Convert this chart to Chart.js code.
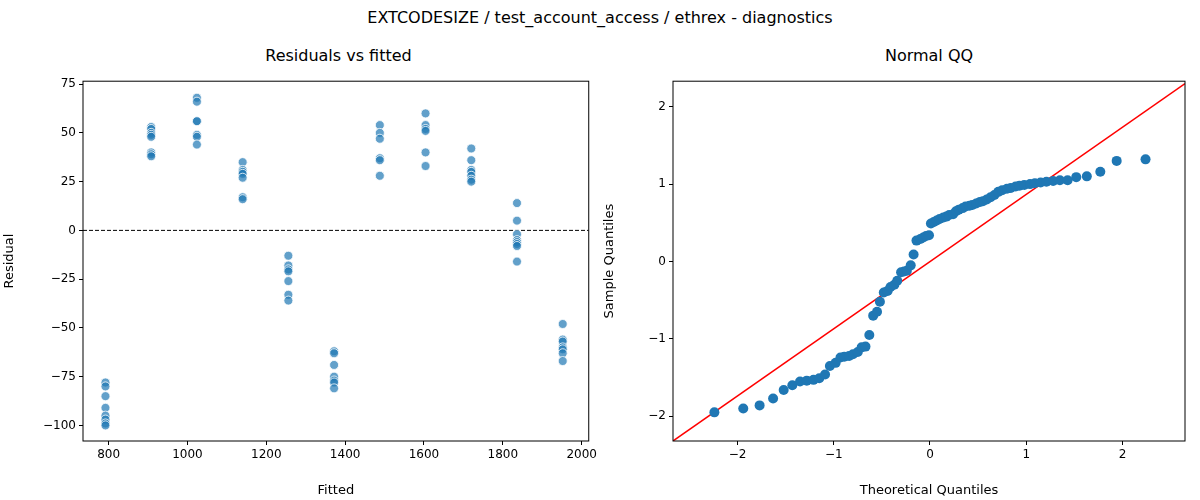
<!DOCTYPE html>
<html>
<head>
<meta charset="utf-8">
<script src="https://cdn.jsdelivr.net/npm/chart.js@4"></script>
<style>
  body { margin: 0; width: 1200px; height: 500px; background: #fff; position: relative; font-family: "DejaVu Sans", sans-serif; overflow: hidden; }
  .t { position: absolute; text-align: center; color: #000; }
  .wrap { position: absolute; top: 71px; height: 429px; width: 600px; }
</style>
</head>
<body>
<div class="t" style="left:0;width:1200px;top:8px;font-size:16px;">EXTCODESIZE / test_account_access / ethrex - diagnostics</div>
<div class="t" style="left:83px;width:511px;top:46px;font-size:16px;">Residuals vs fitted</div>
<div class="t" style="left:673px;width:512px;top:46px;font-size:16px;">Normal QQ</div>
<div class="wrap" style="left:0"><canvas id="resid" width="600" height="429"></canvas></div>
<div class="wrap" style="left:600px"><canvas id="qq" width="600" height="429"></canvas></div>
<script>
// fitted value of each group and its residuals
const fittedGroups = [792, 908, 1024, 1140, 1256, 1372, 1488, 1604, 1720, 1836, 1952];
const residGroups = [
  [-78, -80, -85, -91, -95, -97, -99, -100],
  [53, 52, 50, 49, 48, 40, 39, 38],
  [68, 66, 56, 56, 49, 48, 44],
  [35, 31, 30, 29, 27, 17, 16],
  [-13, -18, -20, -21, -26, -33, -36],
  [-62, -63, -69, -75, -77, -78, -81],
  [54, 50, 47, 37, 36, 28],
  [60, 54, 52, 51, 40, 33],
  [42, 36, 31, 30, 28, 26, 25],
  [14, 5, -2, -5, -6, -7, -8, -16],
  [-48, -56, -57, -60, -61, -63, -67]
];
const fittedTicks = [800, 1000, 1200, 1400, 1600, 1800, 2000];
const residTicks = [-100, -75, -50, -25, 0, 25, 50, 75];

const theoQ = [-2.24, -1.94, -1.77, -1.63, -1.52, -1.43, -1.35, -1.28, -1.21, -1.15, -1.09, -1.04, -0.98,
  -0.93, -0.89, -0.84, -0.80, -0.75, -0.71, -0.67, -0.63, -0.59, -0.55, -0.52, -0.48, -0.44, -0.41, -0.37,
  -0.34, -0.30, -0.27, -0.24, -0.20, -0.17, -0.14, -0.10, -0.07, -0.04, -0.01,
  0.01, 0.04, 0.07, 0.10, 0.14, 0.17, 0.20, 0.24, 0.27, 0.30, 0.34, 0.37, 0.41, 0.44, 0.48, 0.52, 0.55,
  0.59, 0.63, 0.67, 0.71, 0.75, 0.80, 0.84, 0.89, 0.93, 0.98, 1.04, 1.09, 1.15, 1.21, 1.28, 1.35, 1.43,
  1.52, 1.63, 1.77, 1.94, 2.24];
const sampleQ = [-1.95, -1.90, -1.86, -1.77, -1.66, -1.60, -1.55, -1.54, -1.53, -1.51, -1.46, -1.35, -1.31,
  -1.24, -1.23, -1.22, -1.20, -1.17, -1.11, -1.10, -0.95, -0.70, -0.65, -0.52, -0.40, -0.38, -0.33, -0.30,
  -0.25, -0.14, -0.13, -0.12, -0.05, 0.09, 0.27, 0.29, 0.31, 0.33, 0.34,
  0.49, 0.51, 0.53, 0.55, 0.57, 0.58, 0.60, 0.61, 0.65, 0.67, 0.69, 0.71, 0.72, 0.73, 0.75, 0.77, 0.78,
  0.80, 0.83, 0.86, 0.90, 0.92, 0.94, 0.95, 0.97, 0.98, 0.99, 1.00, 1.01, 1.02, 1.03, 1.04, 1.05, 1.05,
  1.09, 1.10, 1.16, 1.30, 1.32];
const qqTicksX = [-2, -1, 0, 1, 2];
const qqTicksY = [-2, -1, 0, 1, 2];
const qqLineX = [-2.67, 2.65];
const qqLineY = [-2.32, 2.30];

Chart.defaults.font.family = '"DejaVu Sans", sans-serif';
Chart.defaults.font.size = 12;
Chart.defaults.color = '#000';

const frame = {
  id: 'frame',
  afterDraw(c) {
    const a = c.chartArea, ctx = c.ctx;
    ctx.save();
    ctx.strokeStyle = '#000';
    ctx.lineWidth = 1;
    ctx.strokeRect(a.left, a.top, a.right - a.left, a.bottom - a.top);
    ctx.restore();
  }
};

function axis(min, max, title, size, tickVals) {
  return {
    type: 'linear', min, max,
    title: { display: true, text: title, font: { size: 13 }, padding: 2 },
    grid: { drawOnChartArea: false, tickLength: 4, color: '#000' },
    border: { display: false },
    ticks: { padding: 3, autoSkip: false, callback: v => String(v).replace('-', '\u2212') },
    afterBuildTicks(s) { s.ticks = tickVals.map(v => ({ value: v })); },
    afterFit(s) { if (s.isHorizontal()) s.height = size; else s.width = size; }
  };
}

let residPts = [];
fittedGroups.forEach((f, i) => residGroups[i].forEach(r => residPts.push({ x: f, y: r })));

new Chart(document.getElementById('resid'), {
  type: 'scatter',
  data: {
    datasets: [
      { data: residPts, backgroundColor: 'rgba(31,119,180,0.7)', borderColor: '#fff', borderWidth: 0.8, pointRadius: 4.5 },
      { type: 'line', data: [{ x: 735, y: 0 }, { x: 2018, y: 0 }], borderColor: '#000', borderWidth: 1,
        borderDash: [4, 2], pointRadius: 0 }
    ]
  },
  options: {
    responsive: false, animation: false,
    layout: { padding: { right: 6, top: 0 } },
    plugins: { legend: { display: false }, tooltip: { enabled: false } },
    scales: {
      x: axis(735, 2018, 'Fitted', 59, fittedTicks),
      y: axis(-108, 76.5, 'Residual', 83, residTicks)
    }
  },
  plugins: [frame]
});

new Chart(document.getElementById('qq'), {
  type: 'scatter',
  data: {
    datasets: [
      { data: theoQ.map((t, i) => ({ x: t, y: sampleQ[i] })), backgroundColor: '#1f77b4', borderWidth: 0, pointRadius: 5 },
      { type: 'line', data: qqLineX.map((x, i) => ({ x, y: qqLineY[i] })), borderColor: '#ff0000',
        borderWidth: 1.5, pointRadius: 0 }
    ]
  },
  options: {
    responsive: false, animation: false,
    layout: { padding: { right: 15, top: 0 } },
    plugins: { legend: { display: false }, tooltip: { enabled: false } },
    scales: {
      x: axis(-2.67, 2.65, 'Theoretical Quantiles', 59, qqTicksX),
      y: axis(-2.32, 2.33, 'Sample Quantiles', 73, qqTicksY)
    }
  },
  plugins: [frame]
});
</script>
</body>
</html>
